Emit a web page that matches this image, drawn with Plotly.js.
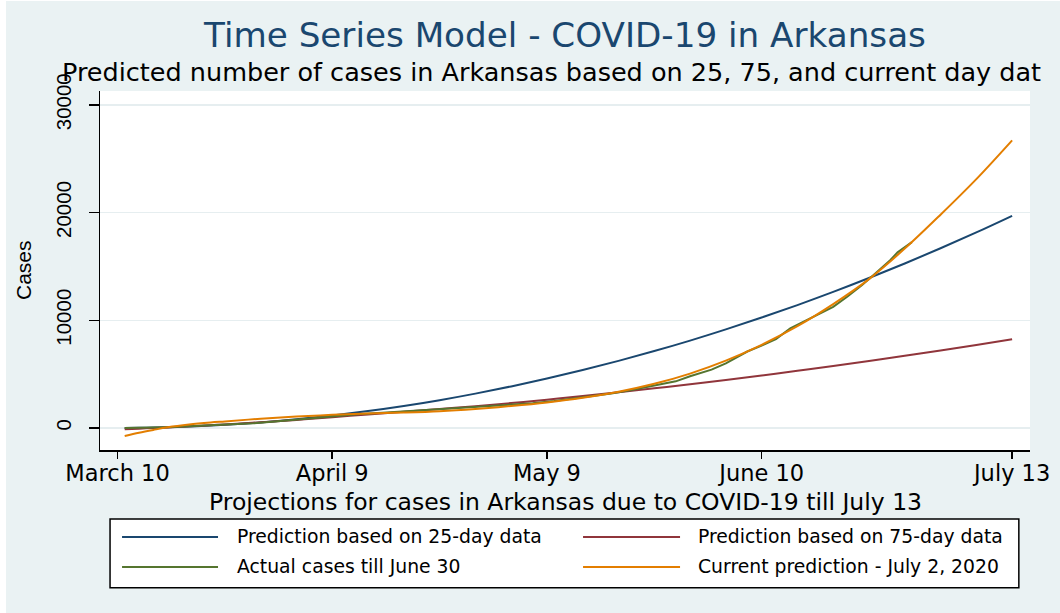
<!DOCTYPE html>
<html>
<head>
<meta charset="utf-8">
<script src="https://cdn.plot.ly/plotly-3.0.1.min.js"></script>
<style>
  html, body { margin: 0; padding: 0; background: #ffffff; }
  #chart { position: absolute; left: 6px; top: 1px; width: 1054px; height: 612px; }
</style>
</head>
<body>
<div id="chart"></div>
<script>
// ---- Data (days since March 10) ----
const predDays = [1, 3, 5, 7, 10, 13, 15, 20, 25, 30, 35, 40, 45, 50, 55, 60, 65, 70, 75, 80, 85, 90, 95, 100, 105, 110, 115, 120, 125];
const pred25 = [0, 15, 40, 75, 140, 230, 300, 520, 810, 1160, 1570, 2040, 2580, 3190, 3860, 4590, 5380, 6230, 7140, 8110, 9150, 10250, 11410, 12630, 13920, 15270, 16680, 18150, 19690];
const pred75 = [-120, -60, -5, 50, 155, 260, 330, 530, 750, 1000, 1250, 1500, 1760, 2020, 2310, 2624, 2960, 3311, 3679, 4063, 4462, 4878, 5309, 5757, 6221, 6701, 7197, 7708, 8237];
const currentPred = [-740, -440, -180, 60, 320, 510, 610, 860, 1060, 1220, 1340, 1430, 1560, 1770, 2040, 2370, 2800, 3360, 4100, 5050, 6250, 7720, 9450, 11500, 13820, 16650, 19800, 23100, 26700];

const actualDays = [1, 4, 7, 10, 13, 16, 19, 22, 25, 28, 31, 34, 37, 40, 43, 46, 49, 52, 55, 58, 61, 64, 66, 69, 72, 75, 78, 80, 83, 85, 87, 88, 90, 92, 94, 96, 98, 100, 102, 104, 106, 108, 109, 111];
const actualCases = [0, 25, 80, 150, 230, 320, 430, 600, 780, 960, 1130, 1290, 1420, 1540, 1660, 1770, 1880, 2000, 2130, 2300, 2500, 2760, 2980, 3200, 3550, 3950, 4330, 4800, 5420, 6000, 6700, 7100, 7650, 8250, 9250, 9900, 10550, 11250, 12200, 13250, 14400, 15600, 16300, 17250];

const tickDays = [0, 30, 60, 90, 125];
const tickLabels = ['March 10', 'April 9', 'May 9', 'June 10', 'July 13'];
const yTicks = [0, 10000, 20000, 30000];
const yTickLabels = ['0', '10000', '20000', '30000'];

const seriesNames = ['Prediction based on 25-day data', 'Prediction based on 75-day data', 'Actual cases till June 30', 'Current prediction - July 2, 2020'];
const seriesColors = ['#1A476F', '#90353B', '#55752F', '#E37E00'];

const titleText = 'Time Series Model - COVID-19 in Arkansas';
const subtitleText = 'Predicted number of cases in Arkansas based on 25, 75, and current day dat';
const xTitleText = 'Projections for cases in Arkansas due to COVID-19 till July 13';
const yTitleText = 'Cases';

// ---- Traces ----
const traces = [
  {x: predDays, y: pred25, name: seriesNames[0], mode: 'lines', line: {color: seriesColors[0], width: 2, shape: 'spline'}},
  {x: predDays, y: pred75, name: seriesNames[1], mode: 'lines', line: {color: seriesColors[1], width: 2, shape: 'spline'}},
  {x: actualDays, y: actualCases, name: seriesNames[2], mode: 'lines', line: {color: seriesColors[2], width: 2}},
  {x: predDays, y: currentPred, name: seriesNames[3], mode: 'lines', line: {color: seriesColors[3], width: 2, shape: 'spline'}}
];

// ---- Manual Stata-style legend ----
const shapes = [{
  type: 'rect', xref: 'paper', yref: 'paper',
  x0: 0.0108, x1: 0.988, y0: -0.384, y1: -0.192,
  fillcolor: '#ffffff', line: {color: '#000000', width: 1.5}
}];
const annotations = [];
const legendPos = [
  {lx0: 0.0237, lx1: 0.1269, tx: 0.1452, y: -0.2423},
  {lx0: 0.5194, lx1: 0.6237, tx: 0.6409, y: -0.2423},
  {lx0: 0.0237, lx1: 0.1269, tx: 0.1452, y: -0.3259},
  {lx0: 0.5194, lx1: 0.6237, tx: 0.6409, y: -0.3259}
];
seriesNames.forEach((nm, i) => {
  const p = legendPos[i];
  shapes.push({type: 'line', xref: 'paper', yref: 'paper', x0: p.lx0, x1: p.lx1, y0: p.y, y1: p.y,
    line: {color: seriesColors[i], width: 2}});
  annotations.push({xref: 'paper', yref: 'paper', x: p.tx, y: p.y, xanchor: 'left', yanchor: 'middle',
    text: nm, showarrow: false, font: {family: 'DejaVu Sans', size: 18.8, color: '#000000'}});
});

annotations.push({xref: 'paper', yref: 'paper', x: -0.043, y: 1.0543, xanchor: 'left', yanchor: 'middle',
  text: subtitleText, showarrow: false, font: {family: 'DejaVu Sans', size: 25.5, color: '#000000'}});
annotations.push({xref: 'paper', yref: 'paper', x: 0.501, y: -0.1435, xanchor: 'center', yanchor: 'middle',
  text: xTitleText, showarrow: false, font: {family: 'DejaVu Sans', size: 23.5, color: '#000000'}});
annotations.push({xref: 'paper', yref: 'paper', x: -0.0817, y: 0.5014, xanchor: 'center', yanchor: 'middle',
  text: yTitleText, textangle: -90, showarrow: false, font: {family: 'Liberation Sans', size: 21, color: '#000000'}});

const layout = {
  width: 1054, height: 612,
  margin: {l: 94, r: 30, t: 90, b: 163, pad: 0},
  paper_bgcolor: '#EAF2F3',
  plot_bgcolor: '#ffffff',
  showlegend: false,
  title: {
    text: titleText, x: 0.5, xref: 'paper', xanchor: 'center',
    y: 0.9444, yref: 'container', yanchor: 'middle',
    font: {family: 'DejaVu Sans', size: 34.2, color: '#1A476F'}
  },
  xaxis: {
    range: [-2.45, 127.5], tickmode: 'array', tickvals: tickDays, ticktext: tickLabels,
    ticks: 'outside', ticklen: 7, tickwidth: 1.5, tickcolor: '#000000',
    showline: true, linecolor: '#000000', linewidth: 1.5,
    showgrid: false, zeroline: false, ticklabelstandoff: -5,
    tickfont: {family: 'DejaVu Sans', size: 22.5, color: '#000000'}
  },
  yaxis: {
    range: [-2043, 31280], tickmode: 'array', tickvals: yTicks, ticktext: yTickLabels,
    ticks: 'outside', ticklen: 10, tickwidth: 1.5, tickcolor: '#000000',
    showline: true, linecolor: '#000000', linewidth: 1.5,
    showgrid: true, gridcolor: '#E6EEF0', gridwidth: 1.5, zeroline: false,
    tickangle: -90, ticklabelstandoff: 9,
    tickfont: {family: 'Liberation Sans', size: 20.5, color: '#000000'}
  },
  shapes: shapes,
  annotations: annotations
};

Plotly.newPlot('chart', traces, layout, {displayModeBar: false, staticPlot: true});
</script>
</body>
</html>
